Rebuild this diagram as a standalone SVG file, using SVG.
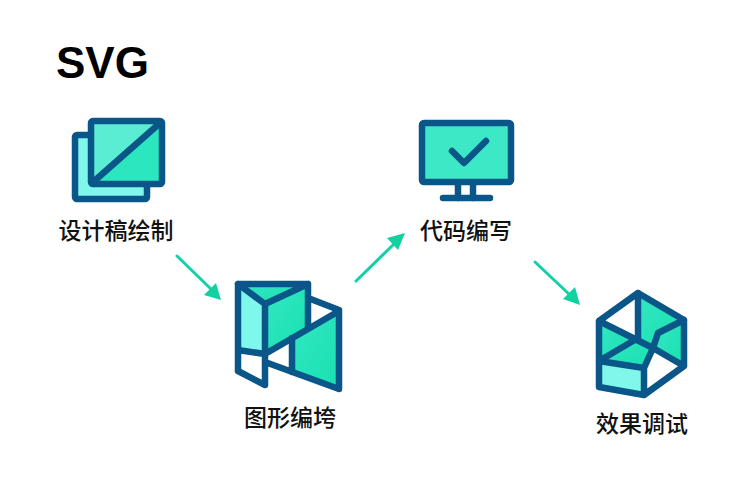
<svg xmlns="http://www.w3.org/2000/svg" width="750" height="500" viewBox="0 0 750 500">
<style>
text{font-family:"Noto Sans CJK SC","Liberation Sans",sans-serif;font-size:23px;font-weight:500;fill:#111;text-anchor:middle}
.title{font-family:"Liberation Sans",Arial,sans-serif;font-size:44px;font-weight:700;fill:#000;text-anchor:start}
.s{stroke:#0a5688;stroke-width:6.5;stroke-linejoin:round;stroke-linecap:round;fill:none}
.c{fill:#7ff7ea}.g{fill:url(#g)}.f{fill:#3ce8c6}.w{fill:#fff}
.a{stroke:#12d0a8;stroke-width:3;fill:none;stroke-linecap:round}
.h{fill:#12d0a0}
</style>
<defs>
<linearGradient id="g" gradientUnits="objectBoundingBox" x1="0" y1="0" x2="1" y2="1"><stop offset="0" stop-color="#34e7c4"/><stop offset="1" stop-color="#18e0b0"/></linearGradient>
</defs>
<text class="title" x="56" y="78">SVG</text>
<g id="connectors">
<path class="a" d="M177 256L212 290"/><path class="h" d="M221 300L204 295L216 283Z"/>
<path class="a" d="M356 281L394 244"/><path class="h" d="M405 233L398 250L387 238Z"/>
<path class="a" d="M535 262L570 295"/><path class="h" d="M580 305L563 299L575 287Z"/>
</g>
<g id="node1">
<rect class="c" x="75" y="135" width="72" height="64" rx="2"/>
<rect class="s" x="75" y="135" width="72" height="64" rx="2"/>
<path d="M91 121H162L91 184Z" fill="#5aedd4"/>
<path d="M162 121V184H91Z" fill="#2be6be"/>
<rect class="s" x="91" y="121" width="71" height="63" rx="2"/>
<path class="s" d="M160 123L92 183"/>
<text x="116" y="239">设计稿绘制</text>
</g>
<g id="node2">
<path class="c" d="M238 284L265 304V354L238 350Z"/>
<path class="g" d="M238 284H308L265 304Z"/>
<path class="g" d="M265 304L308 284V327L265 352Z"/>
<path class="g" d="M292 338L339 311V389L292 372Z"/>
<path class="w" d="M238 350L265 354V385L238 371Z"/>
<path class="s" d="M238 371V284H308V327M238 284L265 304L308 284M265 304V385L238 371M238 350L265 354L339 311V389L265 362M308 298L339 310M292 338V372"/>
<text x="290" y="426">图形编垮</text>
</g>
<g id="node3">
<rect class="f" x="422" y="123" width="89" height="59" rx="2"/>
<rect class="s" x="422" y="123" width="89" height="59" rx="2"/>
<path class="s" d="M452 151L464 163L486 141M458 185V198M473 185V198"/>
<path class="s" d="M443 198H490"/>
<text x="466" y="239">代码编写</text>
</g>
<g id="node4">
<path class="w" d="M599 321L638 293V338Z"/>
<path class="g" d="M638 293L684 320L658 333L653 348L638 338Z"/>
<path class="g" d="M599 321L635 338L599 361Z"/>
<path class="g" d="M599 361L638 338L653 348L644 368Z"/>
<path class="g" d="M658 333L684 320V366L653 348Z"/>
<path class="c" d="M599 361L644 368V395L599 387Z"/>
<path class="s" d="M638 293L684 320V366L644 395L599 387V321ZM638 293V338M599 321L653 348L684 366M599 361L638 338M599 361L644 368V395M644 368L653 348L658 333L684 320"/>
<text x="642" y="432">效果调试</text>
</g>
</svg>
